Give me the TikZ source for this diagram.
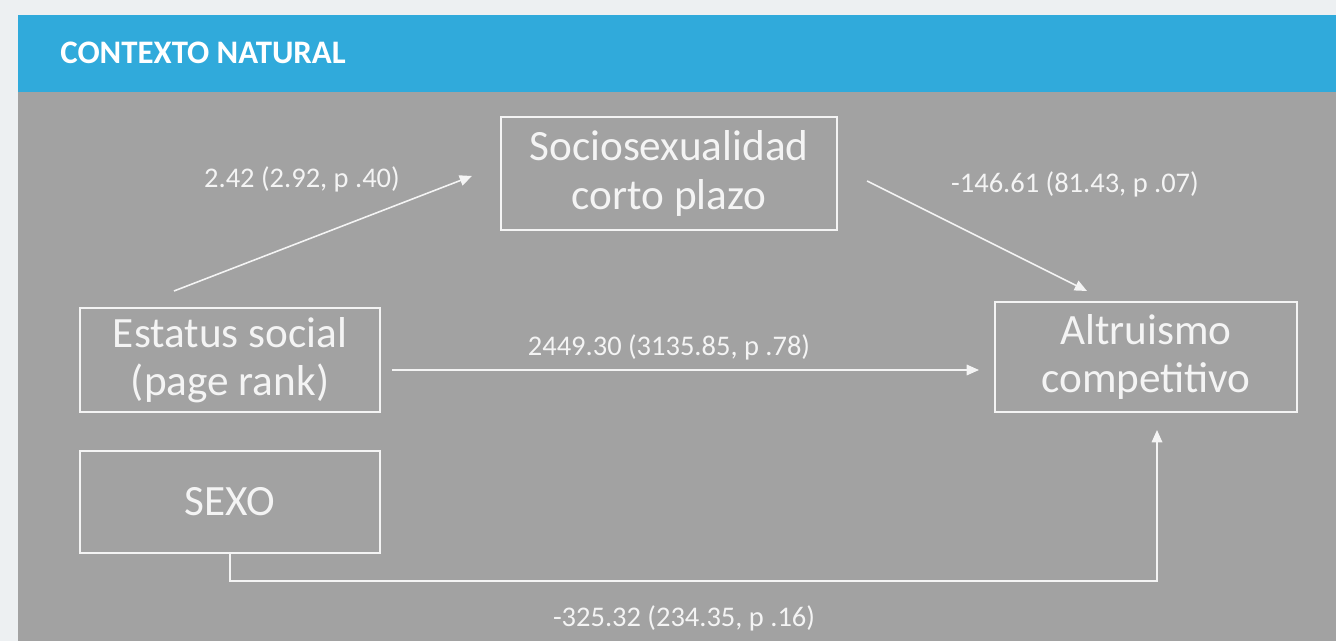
\documentclass[tikz,border=0pt]{standalone}
\usepackage{fontspec}
\setmainfont{Carlito}
\usepackage{tikz}
\usetikzlibrary{positioning,calc,arrows.meta}

\definecolor{pagebg}{HTML}{EDF0F2}
\definecolor{headblue}{HTML}{30AADB}
\definecolor{panelgray}{HTML}{A2A2A2}
\definecolor{inkwhite}{HTML}{F4F4F4}

\begin{document}
\begin{tikzpicture}[x=0.02cm,y=-0.02cm]
        \tikzstyle{var}=[draw=inkwhite, line width=0.9pt, align=center, text=inkwhite,
                         font=\fontsize{24.6}{27.5}\selectfont, inner sep=0pt]
        \tikzstyle{coef}=[text=inkwhite, font=\fontsize{16.2}{18}\selectfont, inner sep=0pt]
        \tikzstyle{path}=[draw=inkwhite, line width=0.9pt, -{Triangle[length=7pt,width=6pt]}]

        % page, header band and panel
        \useasboundingbox (0,0) rectangle (1336,641);
        \fill[pagebg] (0,0) rectangle (1336,641);
        \fill[headblue] (18,15) rectangle (1336,92);
        \fill[panelgray] (18,92) rectangle (1336,641);
        \node[anchor=west, text=white, font=\fontsize{18.7}{21}\selectfont\bfseries, inner sep=0pt]
            (title) at (60,53) {CONTEXTO NATURAL};

        % variables
        \node[var, minimum width=6.72cm, minimum height=2.26cm] (socio) at (669,173.5) {Sociosexualidad\\corto plazo};
        \node[var, minimum width=6cm, minimum height=2.08cm] (estatus) at (230,360) {Estatus social\\(page rank)};
        \node[var, minimum width=6.04cm, minimum height=2.2cm] (altru) at (1146,357) {Altruismo\\competitivo};
        \node[var, minimum width=6cm, minimum height=2.04cm] (sexo) at (230,502) {SEXO};

        % free ends of the paths
        \coordinate (a1) at (174,291);
        \coordinate (a2) at (472,176);
        \coordinate (b1) at (867,181);
        \coordinate (b2) at (1087,291);
        \coordinate (c1) at (392,370);
        \coordinate (c2) at (979,370);
        \coordinate (d1) at (1157,430);

        \draw[path] (a1) -- (a2);
        \draw[path] (b1) -- (b2);
        \draw[path] (c1) -- (c2);
        \draw[path] (sexo.south) |- (sexo.south |- 0,581) -| (d1);

        % coefficients
        \node[coef] (ca) at (302,179) {2.42 (2.92, p .40)};
        \node[coef] (cb) at (1075,184) {-146.61 (81.43, p .07)};
        \node[coef] (cc) at (669,347) {2449.30 (3135.85, p .78)};
        \node[coef] (cd) at (684,618) {-325.32 (234.35, p .16)};
\end{tikzpicture}
\end{document}
